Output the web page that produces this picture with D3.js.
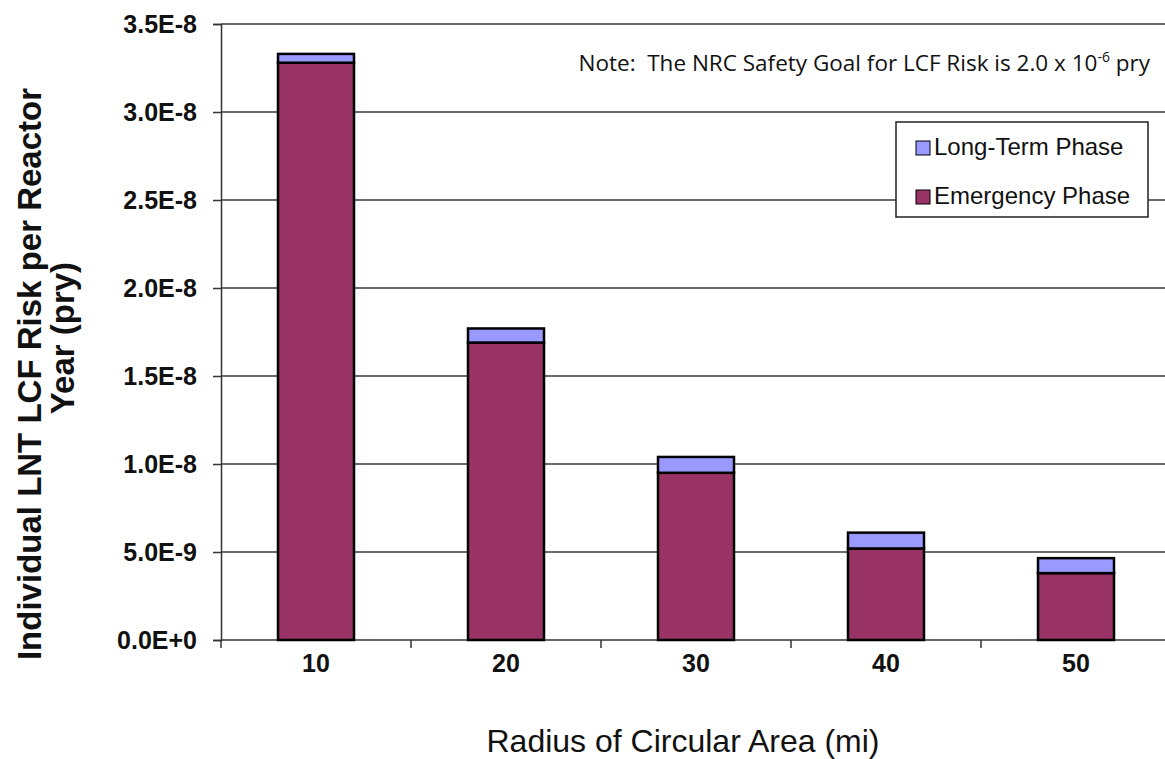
<!DOCTYPE html>
<html>
<head>
<meta charset="utf-8">
<script src="https://cdn.jsdelivr.net/npm/d3@7"></script>
<style>
  body { margin: 0; background: #fff; }
  svg { display: block; font-family: "Liberation Sans", Arial, sans-serif; }
</style>
</head>
<body>
<div id="chart"></div>
<script>
  // data
  var radii = ["10", "20", "30", "40", "50"];
  var emergencyPhase = [3.28e-8, 1.69e-8, 0.95e-8, 0.52e-8, 0.38e-8];
  var longTermPhase = [0.05e-8, 0.08e-8, 0.09e-8, 0.09e-8, 0.085e-8];
  var yTickValues = [0, 5e-9, 1e-8, 1.5e-8, 2e-8, 2.5e-8, 3e-8, 3.5e-8];
  var yTickLabels = ["0.0E+0", "5.0E-9", "1.0E-8", "1.5E-8", "2.0E-8", "2.5E-8", "3.0E-8", "3.5E-8"];
  var seriesNames = ["Emergency Phase", "Long-Term Phase"];
  var seriesColors = { "Emergency Phase": "#993366", "Long-Term Phase": "#9999ff" };

  var W = 1165, H = 759;
  var margin = { top: 24, right: -6, bottom: 119, left: 221 },
    width = W - margin.left - margin.right,
    height = H - margin.top - margin.bottom;

  var rows = radii.map((r, i) => ({
    radius: r,
    "Emergency Phase": emergencyPhase[i],
    "Long-Term Phase": longTermPhase[i]
  }));

  var stacked = d3.stack().keys(seriesNames)(rows);

  var svg = d3.select("#chart").append("svg")
    .attr("width", W)
    .attr("height", H);

  var g = svg.append("g")
    .attr("transform", "translate(" + margin.left + "," + margin.top + ")");

  var x = d3.scaleBand()
    .domain(radii)
    .range([0, width])
    .paddingInner(0)
    .paddingOuter(0);

  var y = d3.scaleLinear()
    .domain([0, 3.5e-8])
    .range([height, 0]);

  // gridlines
  g.append("g")
    .selectAll("line")
    .data(yTickValues.slice(1))
    .enter().append("line")
    .attr("x1", 0)
    .attr("x2", width)
    .attr("y1", d => y(d))
    .attr("y2", d => y(d))
    .attr("stroke", "#3a3a3a")
    .attr("stroke-width", 1.5);

  // y axis
  var yAxis = d3.axisLeft(y)
    .tickValues(yTickValues)
    .tickFormat((d, i) => yTickLabels[i])
    .tickSize(8)
    .tickPadding(16);

  var yAxisG = g.append("g").call(yAxis);
  yAxisG.select(".domain").attr("stroke", "#333").attr("stroke-width", 1.5);
  yAxisG.selectAll(".tick line").attr("stroke", "#333").attr("stroke-width", 1.5);
  yAxisG.selectAll(".tick text")
    .attr("font-size", "25px")
    .attr("font-weight", "bold")
    .attr("fill", "#111")
    .style("font-family", "'Liberation Sans', Arial, sans-serif");

  // x axis
  var xAxisG = g.append("g")
    .attr("transform", "translate(0," + height + ")");
  xAxisG.append("line")
    .attr("x1", 0).attr("x2", width)
    .attr("stroke", "#333").attr("stroke-width", 1.5);
  xAxisG.selectAll(".xtick")
    .data(radii)
    .enter().append("line")
    .attr("x1", d => x(d)).attr("x2", d => x(d))
    .attr("y1", 0).attr("y2", 8)
    .attr("stroke", "#333").attr("stroke-width", 1.5);
  xAxisG.selectAll(".xlab")
    .data(radii)
    .enter().append("text")
    .attr("x", d => x(d) + x.bandwidth() / 2)
    .attr("y", 32)
    .attr("text-anchor", "middle")
    .attr("font-size", "25px")
    .attr("font-weight", "bold")
    .attr("fill", "#111")
    .text(d => d);

  // bars
  var barW = 76;
  g.append("g")
    .selectAll("g")
    .data(stacked)
    .enter().append("g")
    .attr("fill", d => seriesColors[d.key])
    .selectAll("rect")
    .data(d => d)
    .enter().append("rect")
    .attr("x", d => x(d.data.radius) + (x.bandwidth() - barW) / 2)
    .attr("y", d => y(d[1]))
    .attr("width", barW)
    .attr("height", d => y(d[0]) - y(d[1]))
    .attr("stroke", "#000")
    .attr("stroke-width", 2.5);

  // axis titles
  svg.append("text")
    .attr("x", 683)
    .attr("y", 752)
    .attr("text-anchor", "middle")
    .attr("font-size", "32px")
    .attr("fill", "#111")
    .text("Radius of Circular Area (mi)");

  svg.append("text")
    .attr("transform", "translate(41,374) rotate(-90)")
    .attr("text-anchor", "middle")
    .attr("font-size", "33px")
    .attr("font-weight", "bold")
    .attr("fill", "#111")
    .text("Individual LNT LCF Risk per Reactor");
  svg.append("text")
    .attr("transform", "translate(74,338) rotate(-90)")
    .attr("text-anchor", "middle")
    .attr("font-size", "33px")
    .attr("font-weight", "bold")
    .attr("fill", "#111")
    .text("Year (pry)");

  // note
  var note = svg.append("text")
    .attr("x", 1150)
    .attr("y", 71)
    .attr("text-anchor", "end")
    .attr("font-size", "22.5px")
    .attr("fill", "#111")
    .style("white-space", "pre")
    .style("font-family", "'Open Sans', 'Liberation Sans', sans-serif");
  note.append("tspan").text("Note:  The NRC Safety Goal for LCF Risk is 2.0 x 10");
  note.append("tspan").attr("font-size", "14px").attr("dy", -9).text("-6");
  note.append("tspan").attr("dy", 9).text(" pry");

  // legend
  var legend = svg.append("g").attr("transform", "translate(896,122)");
  legend.append("rect")
    .attr("width", 252).attr("height", 95)
    .attr("fill", "#fff").attr("stroke", "#222").attr("stroke-width", 1.5);
  var legendItems = ["Long-Term Phase", "Emergency Phase"];
  legendItems.forEach((name, i) => {
    var base = 33 + i * 49;
    legend.append("rect")
      .attr("x", 20).attr("y", base - 14)
      .attr("width", 14).attr("height", 14)
      .attr("fill", seriesColors[name])
      .attr("stroke", "#000").attr("stroke-width", 1);
    legend.append("text")
      .attr("x", 38).attr("y", base)
      .attr("font-size", "24px")
      .attr("fill", "#111")
      .text(name);
  });
</script>
</body>
</html>
